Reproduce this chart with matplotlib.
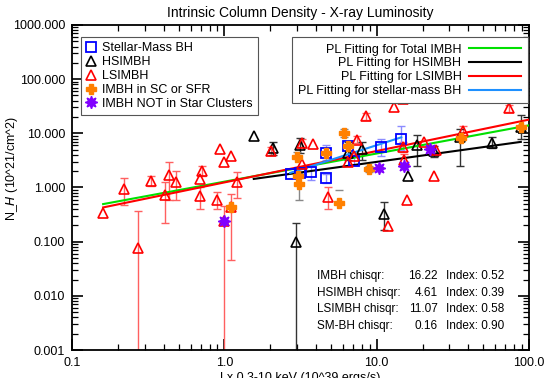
import numpy as np
import matplotlib
matplotlib.use("Agg")
import matplotlib.pyplot as plt
from matplotlib.ticker import LogLocator, FuncFormatter, NullFormatter

nan = np.nan

# LSIMBH: Lx (1e39 erg/s), NH (1e21 cm^-2), error range low / high
ls_lx = [0.16, 0.22, 0.27, 0.33, 0.41, 0.43, 0.48, 0.69, 0.71, 0.69, 0.89, 0.93, 0.99, 1.11, 1.21, 0.99, 1.11,
         2.01, 3.21, 3.80, 3.25, 4.76, 6.46, 7.14, 7.40, 8.49, 11.9, 12.9, 14.8, 14.8, 15.0, 15.9, 20.3, 24.5,
         23.6, 37.1, 73.3]
ls_nh = [0.34, 0.94, 0.078, 1.34, 0.73, 1.71, 1.26, 1.42, 2.02, 0.69, 0.60, 5.15, 2.94, 3.88, 1.25, 0.242, 0.44,
         4.70, 6.73, 6.37, 2.69, 0.68, 3.0, 3.88, 7.55, 20.5, 0.196, 30.3, 42.6, 5.54, 3.23, 0.59, 7.03, 4.94,
         1.66, 11.2, 29.0]
ls_lo = [nan, 0.48, 1e-4, 1.07, 0.22, 0.59, 0.59, nan, 1.6, 0.40, 0.40, nan, nan, nan, 0.63, 1e-4, 0.046,
         4.0, 5.6, nan, nan, 0.40, nan, nan, 6.5, 17.5, nan, nan, nan, 4.5, 2.5, nan, nan, nan,
         nan, 9.5, 25.0]
ls_hi = [nan, 1.49, 0.375, 1.66, 1.25, 3.0, 2.05, nan, 2.5, 1.0, 0.81, nan, nan, nan, 1.97, 0.46, 0.76,
         5.5, 8.0, nan, nan, 1.0, nan, nan, 8.8, 24.0, nan, nan, nan, 6.8, 4.2, nan, nan, nan,
         nan, 13.5, 34.0]

# HSIMBH
hs_lx = [1.56, 2.10, 3.14, 2.94, 6.51, 8.05, 11.1, 16.1, 18.3, 23.6, 35.0, 57.0, 88.3]
hs_nh = [9.04, 5.38, 5.98, 0.099, 4.30, 5.09, 0.32, 1.63, 6.11, 4.80, 8.40, 6.73, 13.1]
hs_lo = [nan, 4.0, 4.4, 1e-4, 3.2, 3.18, 0.165, nan, 2.50, 3.6, 2.50, 5.3, 8.0]
hs_hi = [nan, 7.03, 8.13, 0.22, 7.0, 7.03, 0.55, nan, 9.33, 5.8, 11.9, 8.71, 21.8]

# stellar-mass BH
sm_lx = [2.72, 3.14, 3.71, 4.65, 4.65, 6.49, 7.05, 10.7, 14.5]
sm_nh = [1.80, 1.84, 1.92, 4.30, 1.50, 5.90, 3.10, 5.54, 7.98]
sm_lo = [nan, nan, 1.4, 3.2, 1.2, nan, 2.6, 3.83, 4.9]
sm_hi = [nan, nan, 2.5, 6.1, 1.8, nan, 3.8, 7.78, 13.7]

# IMBH in SC or SFR
sc_lx = [1.11, 3.01, 3.03, 3.07, 4.65, 5.66, 6.11, 6.49, 8.91, 35.6, 88.3]
sc_nh = [0.44, 3.72, 1.60, 1.15, 4.30, 0.51, 10.0, 5.90, 2.18, 8.34, 13.3]
sc_lo = [nan, nan, nan, 0.60, nan, nan, 8.5, nan, 1.9, nan, nan]
sc_hi = [nan, 4.6, nan, 1.86, nan, 0.88, 11.8, nan, 2.5, nan, nan]

# IMBH not in star clusters
nsc_lx = [0.99, 10.4, 15.1, 22.4]
nsc_nh = [0.242, 2.33, 2.50, 5.11]

# power-law fits: NH = norm * Lx^index over [xmin, xmax]
fit_labels = ['PL Fitting for Total IMBH', 'PL Fitting for HSIMBH',
              'PL Fitting for LSIMBH', 'PL Fitting for stellar-mass BH']
fit_norm = [1.28, 1.21, 1.24, 0.76]
fit_index = [0.52, 0.39, 0.58, 0.90]
fit_xmin = [0.16, 1.56, 0.16, 2.7]
fit_xmax = [100.0, 88.3, 100.0, 14.5]
fit_colors = ['#00e000', 'black', 'red', '#1e90ff']

stat_names = ['IMBH chisqr:', 'HSIMBH chisqr:', 'LSIMBH chisqr:', 'SM-BH chisqr:']
stat_chisqr = ['16.22', '4.61', '11.07', '0.16']
stat_index = ['0.52', '0.39', '0.58', '0.90']

plt.rcParams['font.family'] = ['Liberation Sans', 'DejaVu Sans']

fig = plt.figure(figsize=(5.54, 3.78), dpi=100)
ax = fig.add_axes([0.130, 0.074, 0.825, 0.860])
ax.set_xscale('log')
ax.set_yscale('log')
ax.set_xlim(0.1, 100)
ax.set_ylim(0.001, 1000)


def bars(x, y, lo, hi, color):
    x = np.array(x)
    y = np.array(y)
    lo = np.array(lo)
    hi = np.array(hi)
    ax.errorbar(x, y, yerr=[y - lo, hi - y], fmt='none', ecolor=color,
                elinewidth=1, capsize=3, capthick=1, zorder=2)


bars(ls_lx, ls_nh, ls_lo, ls_hi, '#ff6060')
bars(hs_lx, hs_nh, hs_lo, hs_hi, '#333333')
bars(sm_lx, sm_nh, sm_lo, sm_hi, '#8c8cff')
bars(sc_lx, sc_nh, sc_lo, sc_hi, '#888888')

fit_lines = []
for i in range(len(fit_labels)):
    lx = np.logspace(np.log10(fit_xmin[i]), np.log10(fit_xmax[i]), 50)
    ln, = ax.plot(lx, fit_norm[i] * lx ** fit_index[i], color=fit_colors[i], lw=1.5,
                  label=fit_labels[i], zorder=3)
    fit_lines.append(ln)

p_sm, = ax.plot(sm_lx, sm_nh, 's', ms=7, mfc='none', mec='blue', mew=1.3, zorder=4,
                label='Stellar-Mass BH')
p_hs, = ax.plot(hs_lx, hs_nh, '^', ms=7, mfc='none', mec='black', mew=1.2, zorder=4,
                label='HSIMBH')
p_ls, = ax.plot(ls_lx, ls_nh, '^', ms=7, mfc='none', mec='red', mew=1.2, zorder=4,
                label='LSIMBH')
p_sc, = ax.plot(sc_lx, sc_nh, 'P', ms=7, color='#ff8000', mec='#ff8000', zorder=5,
                label='IMBH in SC or SFR')
p_nsc, = ax.plot(nsc_lx, nsc_nh, marker=(8, 1, 0), ls='none', ms=9, color='#8000ff',
                 zorder=5, label='IMBH NOT in Star Clusters')

leg1 = ax.legend(handles=[p_sm, p_hs, p_ls, p_sc, p_nsc], loc='upper left',
                 bbox_to_anchor=(0.019, 0.962), borderaxespad=0, fontsize=9,
                 handlelength=0.8, handletextpad=0.5, labelspacing=0.15,
                 fancybox=False, framealpha=1, edgecolor='#555555', borderpad=0.4)
leg1.get_frame().set_linewidth(0.8)
ax.add_artist(leg1)

leg2 = ax.legend(handles=fit_lines, loc='upper right', bbox_to_anchor=(0.997, 0.962),
                 borderaxespad=0, fontsize=9, markerfirst=False, handlelength=4.2,
                 handletextpad=0.6, labelspacing=0.15, fancybox=False, framealpha=1,
                 edgecolor='#555555', borderpad=0.5)
leg2.get_frame().set_linewidth(0.8)

rows_y = [0.228, 0.175, 0.126, 0.074]
for i in range(4):
    ax.text(0.536, rows_y[i], stat_names[i], transform=ax.transAxes, fontsize=8.5, va='center')
    ax.text(0.800, rows_y[i], stat_chisqr[i], transform=ax.transAxes, fontsize=8.5,
            va='center', ha='right')
    ax.text(0.818, rows_y[i], 'Index: ' + stat_index[i], transform=ax.transAxes,
            fontsize=8.5, va='center')

ax.xaxis.set_major_locator(LogLocator(base=10, numticks=10))
ax.xaxis.set_minor_locator(LogLocator(base=10, subs=np.arange(2, 10), numticks=10))
ax.yaxis.set_major_locator(LogLocator(base=10, numticks=10))
ax.yaxis.set_minor_locator(LogLocator(base=10, subs=np.arange(2, 10), numticks=10))
ax.xaxis.set_major_formatter(FuncFormatter(lambda v, p: '%.1f' % v))
ax.yaxis.set_major_formatter(FuncFormatter(lambda v, p: '%.3f' % v))
ax.xaxis.set_minor_formatter(NullFormatter())
ax.yaxis.set_minor_formatter(NullFormatter())
ax.tick_params(which='both', direction='in', top=True, right=True, labelsize=9)
ax.tick_params(which='major', length=8, width=1.2, pad=5)
ax.tick_params(which='minor', length=4, width=0.9)
for s in ax.spines.values():
    s.set_linewidth(1.3)

ax.set_title('Intrinsic Column Density - X-ray Luminosity', fontsize=10, pad=6)
ax.set_ylabel('N_$H$ (10^21/cm^2)', fontsize=9)
ax.yaxis.set_label_coords(-0.114, 0.557)
ax.set_xlabel('Lx 0.3-10 keV (10^39 ergs/s)', fontsize=9)
ax.xaxis.set_label_coords(0.5, -0.068)

plt.savefig('out.png', dpi=100)
